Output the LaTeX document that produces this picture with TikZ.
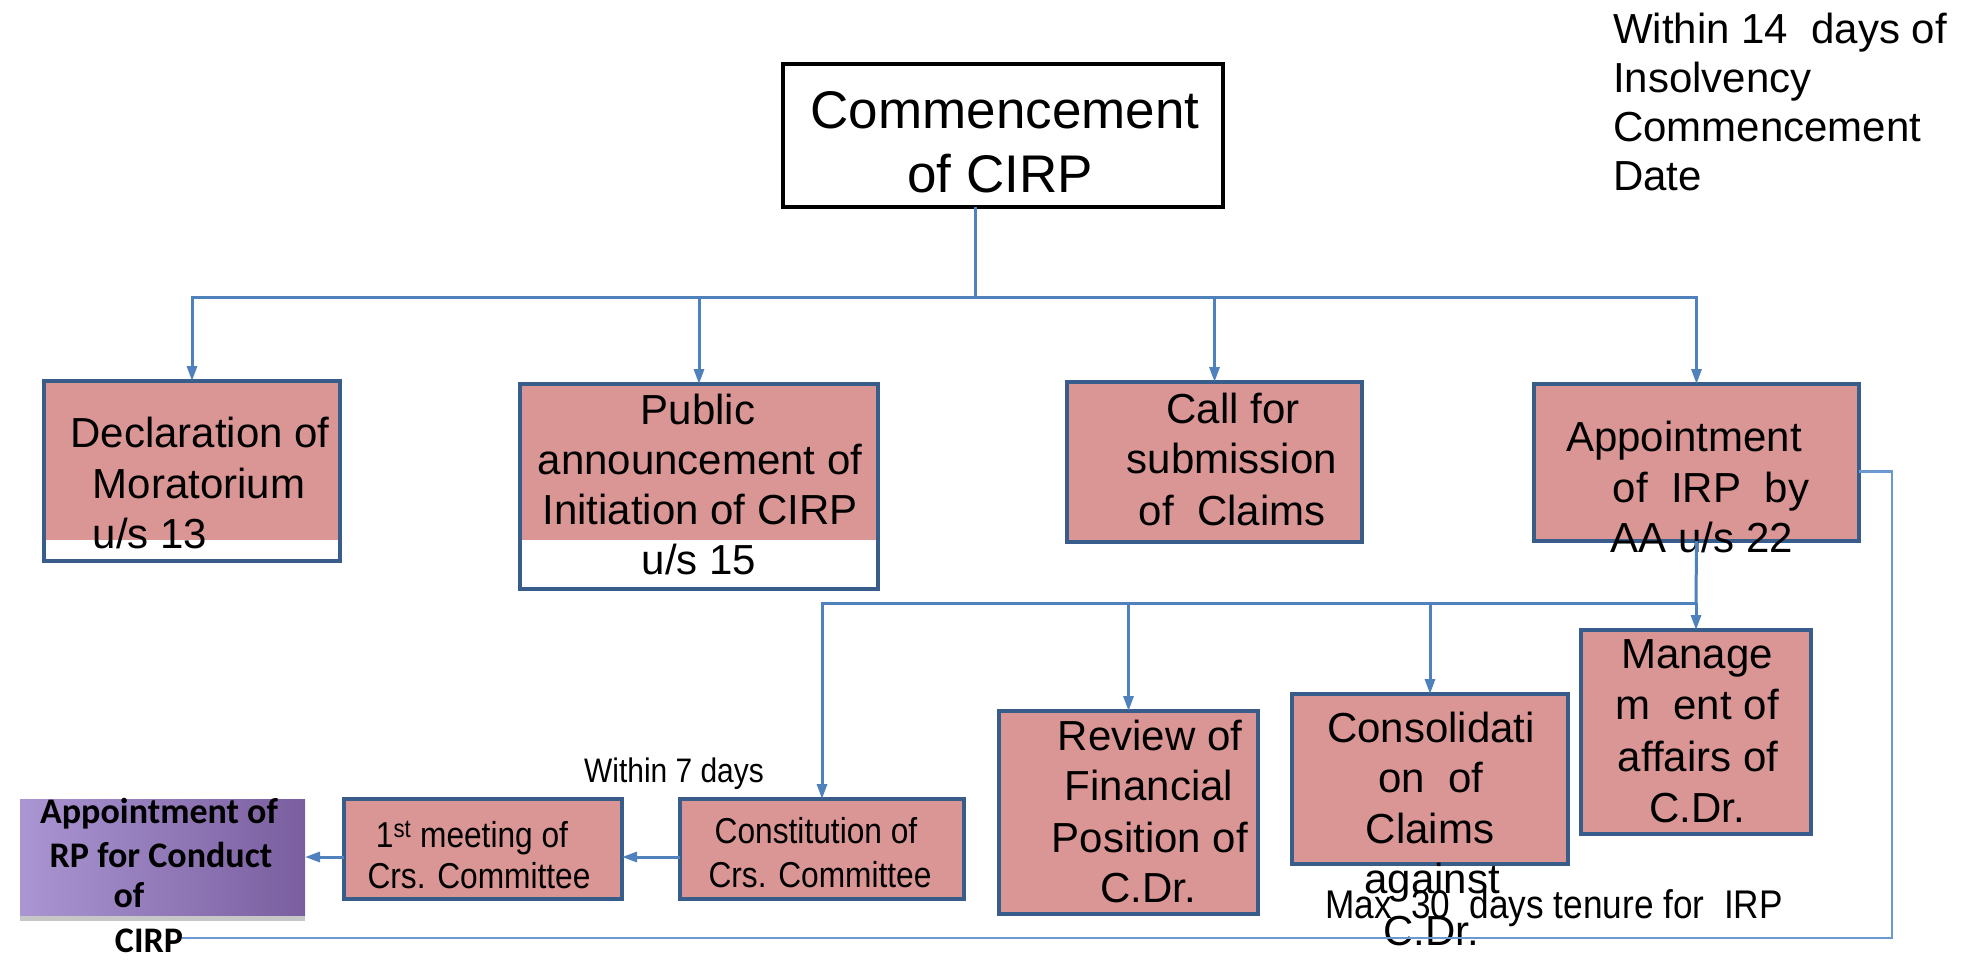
\documentclass[tikz,border=0pt]{standalone}
\usepackage{fontspec}
\setmainfont{Liberation Sans}
\newfontfamily\condensed[FakeStretch=0.88]{Liberation Sans}
\newfontfamily\carlito{Carlito}
\usetikzlibrary{arrows.meta,calc,shadows}

\definecolor{pinkfill}{HTML}{D99694}
\definecolor{boxline}{HTML}{385D8A}
\definecolor{linkblue}{HTML}{4F81BD}
\definecolor{retblue}{HTML}{6A98D0}
\definecolor{purpleL}{HTML}{AA96D2}
\definecolor{purpleR}{HTML}{7A5E9F}

\begin{document}
\begin{tikzpicture}[x=1pt,y=-1pt,
  stepbox/.style={draw=boxline, line width=4pt, fill=pinkfill, inner sep=0pt, outer sep=0pt, anchor=north west},
  topbox/.style={draw=black, line width=4pt, fill=white, inner sep=0pt, outer sep=0pt, anchor=north west},
  conn/.style={draw=linkblue, line width=3pt},
  arr/.style={conn, -{Triangle[length=15pt,width=10pt]}},
  retline/.style={draw=retblue, line width=2.2pt},
  txt/.style={inner sep=0pt, anchor=base, font=\fontsize{42}{50}\selectfont},
  bigtxt/.style={inner sep=0pt, anchor=base, font=\fontsize{53}{64}\selectfont},
  smalltxt/.style={inner sep=0pt, anchor=base, font=\condensed\fontsize{36}{44}\selectfont},
  rptxt/.style={inner sep=0pt, anchor=base, font=\carlito\bfseries\fontsize{36}{44}\selectfont},
  notetxt/.style={inner sep=0pt, anchor=base west, font=\fontsize{42}{50}\selectfont},
]
\useasboundingbox (0,0) rectangle (1965,959);

% ---- root ----
\node[topbox, minimum width=440pt, minimum height=143pt] (top) at (783,64) {};
\node[bigtxt] (t1) at (1005,128) {Commencement};
\node[bigtxt] (t2) at (1000,192) {of CIRP};

% ---- note at top right ----
\node[notetxt] (n1) at (1613,43) {Within 14\ \ days of};
\node[notetxt] (n2) at (1613,92) {Insolvency};
\node[notetxt] (n3) at (1613,141) {Commencement};
\node[notetxt] (n4) at (1613,190) {Date};

% ---- first level boxes ----
\fill[pinkfill] (44,381) rectangle (340,540);
\node[stepbox, fill=none, minimum width=296pt, minimum height=180pt] (decl) at (44,381) {};
\node[txt] (d1) at (200,447) {Declaration of};
\node[txt] (d2) at (199,498) {Moratorium};
\node[txt] (d3) at (150,548) {u/s 13};

\fill[pinkfill] (520,384) rectangle (878,540);
\node[stepbox, fill=none, minimum width=358pt, minimum height=205pt] (pub) at (520,384) {};
\node[txt] (p1) at (698,424) {Public};
\node[txt] (p2) at (700,474) {announcement of};
\node[txt] (p3) at (700,524) {Initiation of CIRP};
\node[txt] (p4) at (699,574) {u/s 15};

\node[stepbox, minimum width=295pt, minimum height=160pt] (call) at (1067,382) {};
\node[txt] (c1) at (1233,423) {Call for};
\node[txt] (c2) at (1232,473) {submission};
\node[txt] (c3) at (1232,525) {of\ \ Claims};

\node[stepbox, minimum width=325pt, minimum height=157pt] (appt) at (1534,384) {};
\node[txt] (a1) at (1684,451) {Appointment};
\node[txt] (a2) at (1711,502) {of\ \ IRP\ \ by};
\node[txt] (a3) at (1702,552) {AA u/s 22};

% ---- second level boxes ----
\node[stepbox, minimum width=259pt, minimum height=203pt] (review) at (999,711) {};
\node[txt] (r1) at (1150,750) {Review of};
\node[txt] (r2) at (1149,800) {Financial};
\node[txt] (r3) at (1150,852) {Position of};
\node[txt] (r4) at (1148,902) {C.Dr.};

\node[stepbox, minimum width=276pt, minimum height=170pt] (consol) at (1292,694) {};
\node[txt] (k1) at (1431,742) {Consolidati};
\node[txt] (k2) at (1431,792) {on\ \ of};
\node[txt] (k3) at (1430,843) {Claims};
\node[txt] (k4) at (1432,893) {against};
\node[txt] (k5) at (1431,945) {C.Dr.};

\node[stepbox, minimum width=230pt, minimum height=204pt] (manage) at (1581,630) {};
\node[txt] (m1) at (1697,668) {Manage};
\node[txt] (m2) at (1697,719) {m\ \ ent of};
\node[txt] (m3) at (1698,771) {affairs of};
\node[txt] (m4) at (1697,822) {C.Dr.};

\node[stepbox, minimum width=284pt, minimum height=100pt] (constit) at (680,799) {};
\node[smalltxt] (s1) at (816,843) {Constitution of};
\node[smalltxt] (s2) at (820,887) {Crs. Committee};

\node[stepbox, minimum width=278pt, minimum height=100pt] (meet) at (344,799) {};
\node[smalltxt] (e1) at (472,847) {1\textsuperscript{st} meeting of};
\node[smalltxt] (e2) at (479,888) {Crs. Committee};

\node[inner sep=0pt, outer sep=0pt, anchor=north west, minimum width=285pt, minimum height=116pt,
      left color=purpleL, right color=purpleR,
      drop shadow={shadow xshift=0pt, shadow yshift=-6pt, opacity=0.45}] (rp) at (20,799) {};
\node[rptxt] (q1) at (159,823) {Appointment of};
\node[rptxt] (q2) at (161,867) {RP for Conduct};
\node[rptxt] (q3) at (129,907) {of};
\node[rptxt] (q4) at (149,952) {CIRP};

% ---- labels ----
\node[inner sep=0pt, anchor=base, font=\condensed\fontsize{34}{40}\selectfont] (w7) at (674,782) {Within 7 days};
\node[inner sep=0pt, anchor=base, font=\condensed\fontsize{40}{46}\selectfont] (max30) at (1554,918) {Max\ \ 30\ \ days tenure for\ \ IRP};

% ---- connectors: root to first level ----
\coordinate (busA) at (975,297);
\draw[conn] (top.south -| busA) -- (busA);
\draw[arr] (busA) -| (decl.north);
\draw[arr] (busA) -| (pub.north);
\draw[arr] (busA) -| (call.north);
\draw[arr] (busA) -| (appt.north);

% ---- connectors: IRP to its tasks ----
\coordinate (busB) at (1696,603);
\draw[conn] (appt.south) -- (busB);
\draw[arr] (busB) -| (constit.north);
\draw[arr] (busB) -| (review.north);
\draw[arr] (busB) -| (consol.north);
\draw[arr] (busB) -| (manage.north);

% ---- committee chain ----
\draw[arr] (constit.west |- rp.east) -- (meet.east |- rp.east);
\draw[arr] (meet.west |- rp.east) -- (rp.east);

% ---- IRP tenure return line ----
\coordinate (retR) at (1892,938);
\coordinate (retL) at (182,938);
\draw[retline] ($(appt.east)+(0,9)$) -| (retR) -- (retL);
\end{tikzpicture}
\end{document}
